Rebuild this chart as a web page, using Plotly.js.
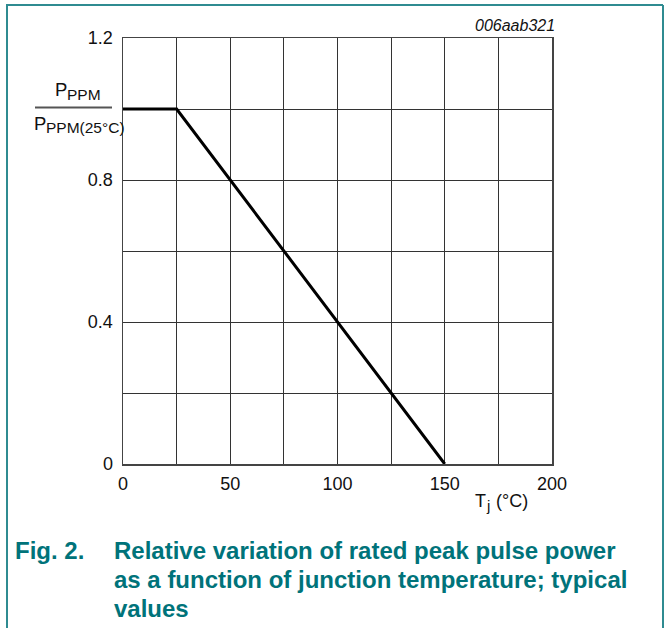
<!DOCTYPE html>
<html>
<head>
<meta charset="utf-8">
<script src="https://cdn.plot.ly/plotly-3.0.1.min.js"></script>
<style>html,body{margin:0;padding:0;background:#fff;}#chart{width:669px;height:628px;}</style>
</head>
<body>
<div id="chart"></div>
<script>
// Data
var tempC = [0, 25, 150];
var relPower = [1.0, 1.0, 0.0];
var xTickVals = [0, 50, 100, 150, 200];
var xTickText = ['0', '50', '100', '150', '200'];
var xMinorVals = [25, 75, 125, 175];
var yTickVals = [0, 0.4, 0.8, 1.2];
var yTickText = ['0', '0.4', '0.8', '1.2'];
var yMinorVals = [0.2, 0.6, 1.0];

var W = 669, H = 628;
var L = 123, R = 552, T = 38, B = 464;
function px(x) { return (x - L) / (R - L); }
function py(y) { return (B - y) / (B - T); }
// y position of text middle from its baseline
function mid(base, f) { return py(base - 0.35 * f); }

var teal = '#00737a';
var border = '#2f8b91';
var font = 'Liberation Sans, Arial, sans-serif';
var ink = '#111';

var trace = {
  x: tempC, y: relPower, type: 'scatter', mode: 'lines',
  line: {color: '#000', width: 3}, hoverinfo: 'skip', showlegend: false
};

function ann(text, x, base, f, opts) {
  var a = {xref: 'paper', yref: 'paper', x: px(x), y: mid(base, f), xanchor: 'left', yanchor: 'middle',
    showarrow: false, text: text, font: {size: f, family: font, color: ink}};
  if (opts) for (var k in opts) a[k] = opts[k];
  return a;
}

var layout = {
  width: W, height: H,
  margin: {l: L, r: W - R, t: T, b: H - B, pad: 0},
  paper_bgcolor: '#fff', plot_bgcolor: '#fff',
  font: {family: font, color: ink, size: 18},
  xaxis: {
    range: [0, 200], tickmode: 'array', tickvals: xTickVals, ticktext: xTickText,
    showgrid: true, gridcolor: '#333', gridwidth: 1, zeroline: false,
    minor: {tickmode: 'array', tickvals: xMinorVals, showgrid: true, gridcolor: '#333', gridwidth: 1, ticks: ''},
    showline: true, mirror: true, linecolor: '#444', linewidth: 1.5,
    ticks: '', ticklabelstandoff: 3, tickfont: {size: 18, family: font, color: ink},
    fixedrange: true
  },
  yaxis: {
    range: [0, 1.2], tickmode: 'array', tickvals: yTickVals, ticktext: yTickText,
    showgrid: true, gridcolor: '#333', gridwidth: 1, zeroline: false,
    minor: {tickmode: 'array', tickvals: yMinorVals, showgrid: true, gridcolor: '#333', gridwidth: 1, ticks: ''},
    showline: true, mirror: true, linecolor: '#444', linewidth: 1.5,
    ticks: '', ticklabelstandoff: 5, tickfont: {size: 18, family: font, color: ink},
    fixedrange: true
  },
  shapes: [
    {type: 'line', xref: 'paper', yref: 'paper', x0: px(6), x1: px(663), y0: py(5), y1: py(5), line: {color: border, width: 2}},
    {type: 'line', xref: 'paper', yref: 'paper', x0: px(7), x1: px(7), y0: py(5), y1: py(629), line: {color: border, width: 2}},
    {type: 'line', xref: 'paper', yref: 'paper', x0: px(663), x1: px(663), y0: py(5), y1: py(629), line: {color: border, width: 2}},
    {type: 'line', xref: 'paper', yref: 'paper', x0: px(35), x1: px(112), y0: py(107.5), y1: py(107.5), line: {color: '#555', width: 2}}
  ],
  annotations: [
    ann('<i>006aab321</i>', 557, 30.7, 16, {xanchor: 'right'}),
    // y-axis title (fraction)
    ann('P', 52.5, 95.7, 18.5),
    ann('PPM', 64.5, 100, 15.5),
    ann('P', 32, 130, 18.5),
    ann('PPM(25°C)', 44, 133, 15.5),
    // x-axis title
    ann('T', 472.5, 507, 18),
    ann('j', 484, 510.5, 15),
    ann('(°C)', 493.5, 507, 18),
    // caption
    ann('<b>Fig. 2.</b>', 13, 559, 24, {font: {size: 24, family: font, color: teal}}),
    ann('<b>Relative variation of rated peak pulse power</b>', 112, 559, 24, {font: {size: 24, family: font, color: teal}}),
    ann('<b>as a function of junction temperature; typical</b>', 112, 588, 24, {font: {size: 24, family: font, color: teal}}),
    ann('<b>values</b>', 112, 617, 24, {font: {size: 24, family: font, color: teal}})
  ]
};

Plotly.newPlot('chart', [trace], layout, {staticPlot: true, displayModeBar: false});
</script>
</body>
</html>
